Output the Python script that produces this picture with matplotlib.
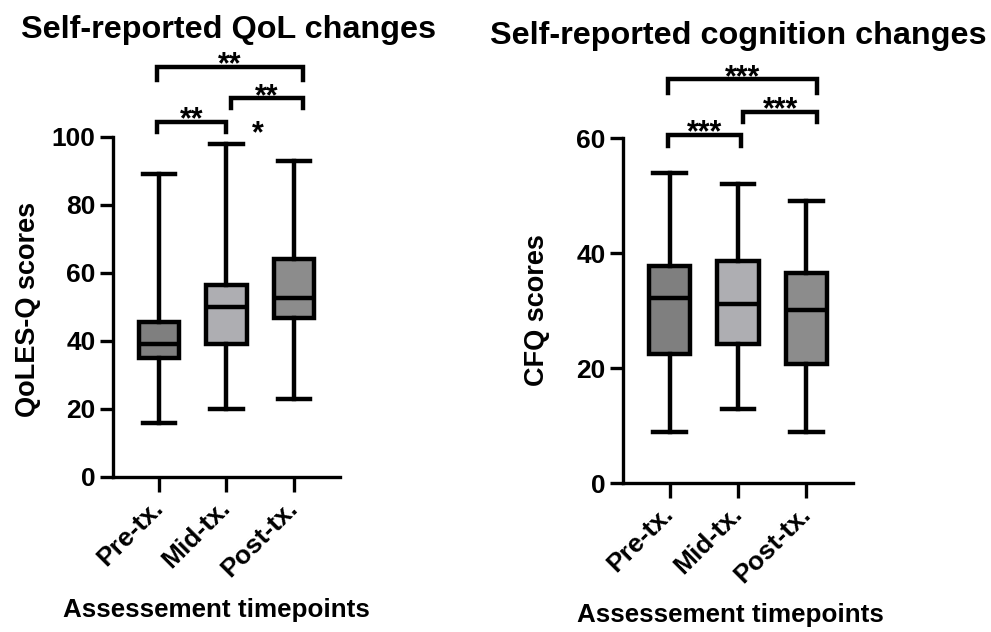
"""QoL and cognition scores across treatment timepoints, drawn as box plots."""
import matplotlib
matplotlib.use("Agg")
import matplotlib.pyplot as plt

plt.rcParams["font.family"] = ["Liberation Sans", "DejaVu Sans"]
plt.rcParams["font.weight"] = "bold"

timepoints = ["Pre-tx.", "Mid-tx.", "Post-tx."]
box_colors = ["#7f7f7f", "#aeaeb2", "#8c8c8c"]

# five-number summaries: min, Q1, median, Q3, max
qol_min = [16, 20, 23]
qol_q1 = [35, 39, 46.7]
qol_med = [39, 50, 52.5]
qol_q3 = [45.5, 56.5, 64]
qol_max = [89, 98, 93]

cfq_min = [9, 13, 9]
cfq_q1 = [22.5, 24.3, 20.7]
cfq_med = [32.2, 31.1, 30.1]
cfq_q3 = [37.8, 38.7, 36.5]
cfq_max = [54, 52, 49]

# significance brackets: (x_left, x_right, y_top, y_end, label)
qol_sig = [
    (0.97, 2.00, 104.5, 101.6, "**"),
    (2.07, 3.13, 111.4, 108.5, "**"),
    (0.97, 3.13, 120.7, 116.8, "**"),
]
cfq_sig = [
    (0.98, 2.05, 60.6, 58.7, "***"),
    (2.07, 3.16, 64.6, 62.9, "***"),
    (0.98, 3.16, 70.3, 67.8, "***"),
]

LW = 3.2


def stars(ax, x, y, label):
    ax.annotate(label, (x, y), xytext=(0, -5), textcoords="offset points",
                ha="center", va="baseline", fontsize=22, annotation_clip=False)


def draw_panel(ax, mins, q1s, meds, q3s, maxs, ymax, yticks, ylabel, title, sigs,
               title_xy, ylabel_x, xlabel_xy):
    stats = []
    for lo, q1, med, q3, hi, name in zip(mins, q1s, meds, q3s, maxs, timepoints):
        stats.append(dict(whislo=lo, q1=q1, med=med, q3=q3, whishi=hi, label=name))
    bp = ax.bxp(stats, positions=[1, 2, 3], widths=0.6, patch_artist=True,
                showfliers=False,
                boxprops=dict(linewidth=LW, edgecolor="black"),
                medianprops=dict(linewidth=LW, color="black"),
                whiskerprops=dict(linewidth=LW, color="black"),
                capprops=dict(linewidth=LW, color="black"),
                capwidths=0.48)
    for patch, c in zip(bp["boxes"], box_colors):
        patch.set_facecolor(c)

    ax.set_xlim(0.32, 3.68)
    ax.set_ylim(0, ymax)
    ax.set_yticks(yticks)
    ax.spines["top"].set_visible(False)
    ax.spines["right"].set_visible(False)
    for s in ("left", "bottom"):
        ax.spines[s].set_linewidth(2.4)
    ax.tick_params(axis="both", width=2.4, length=9.5, labelsize=19, pad=3)
    ax.tick_params(axis="x", length=10.5, pad=9)
    ax.set_xticks([1, 2, 3])
    ax.set_xticklabels(timepoints, rotation=45, ha="right", va="center",
                       rotation_mode="anchor", fontsize=19, fontweight="bold")
    for lab in ax.get_xticklabels():
        lab.set_x(lab.get_position()[0])
    for lab in ax.get_yticklabels():
        lab.set_fontweight("bold")

    for x0, x1, ytop, yend, label in sigs:
        ax.plot([x0, x0, x1, x1], [yend, ytop, ytop, yend], color="black",
                lw=LW, clip_on=False, solid_joinstyle="miter")
        stars(ax, (x0 + x1) / 2, ytop, label)

    fig = ax.figure
    fig.text(title_xy[0], title_xy[1], title, ha="center", va="center",
             fontsize=23.3, fontweight="bold")
    fig.text(ylabel_x, 0.51, ylabel, rotation=90, ha="center", va="center",
             fontsize=19.5, fontweight="bold")
    fig.text(xlabel_xy[0], xlabel_xy[1], "Assessement timepoints", ha="center",
             va="center", fontsize=18.7, fontweight="bold")


fig = plt.figure(figsize=(9.91, 6.32), dpi=100)
ax1 = fig.add_axes([0.114, 0.2453, 0.229, 0.538])
ax2 = fig.add_axes([0.6287, 0.2353, 0.232, 0.546])

draw_panel(ax1, qol_min, qol_q1, qol_med, qol_q3, qol_max, 100,
           [0, 20, 40, 60, 80, 100], "QoLES-Q scores",
           "Self-reported QoL changes", qol_sig, (0.231, 0.952), 0.028,
           (0.218, 0.035))
stars(ax1, 2.46, 100.5, "*")

draw_panel(ax2, cfq_min, cfq_q1, cfq_med, cfq_q3, cfq_max, 60,
           [0, 20, 40, 60], "CFQ scores",
           "Self-reported cognition changes", cfq_sig, (0.745, 0.943), 0.542,
           (0.737, 0.027))

fig.savefig("out.png", dpi=100)
